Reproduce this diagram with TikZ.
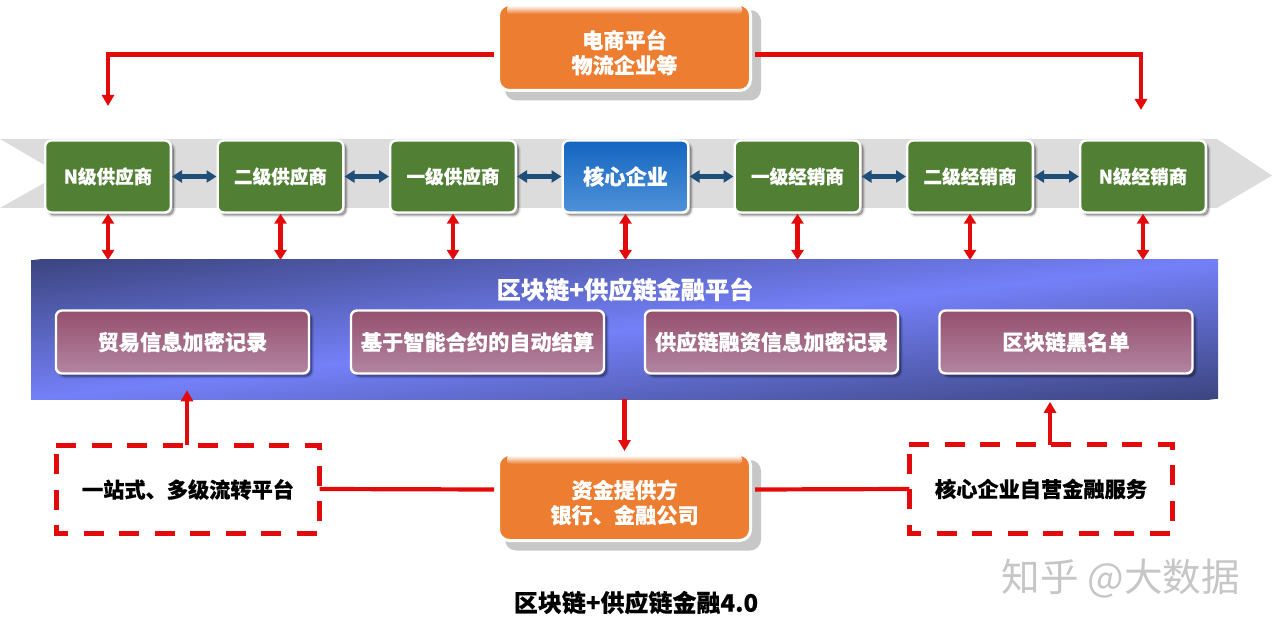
\documentclass[tikz,border=0pt]{standalone}
\usepackage{fontspec}
\setmainfont{Noto Sans CJK SC}[BoldFeatures={FakeBold=0.3}]
\usetikzlibrary{arrows.meta,calc}
\definecolor{redline}{HTML}{E20A0A}
\definecolor{bluearrow}{HTML}{1F4E79}
\definecolor{greenbox}{HTML}{518034}
\definecolor{orangebox}{HTML}{ED7D31}
\definecolor{bandgrey}{HTML}{DCDCDC}
\definecolor{paneldark}{HTML}{3C4580}
\definecolor{panelbright}{HTML}{7480F8}
\definecolor{plumtop}{HTML}{95506E}
\definecolor{plumbot}{HTML}{B285A1}
\definecolor{coretop}{HTML}{1465C0}
\definecolor{corebot}{HTML}{4F92D8}
\definecolor{wmgrey}{HTML}{C6C6C6}
\tikzset{
  softshadow/.style={
    preaction={draw=black,fill=black,line width=4pt,opacity=.07,transform canvas={shift={(3pt,-3pt)}}},
    preaction={draw=black,fill=black,line width=2pt,opacity=.10,transform canvas={shift={(3pt,-3pt)}}},
    preaction={fill=black,opacity=.14,transform canvas={shift={(3pt,-3pt)}}}},
  boxtext/.style={text=white,font=\fontsize{21.2pt}{25pt}\selectfont\bfseries,align=center,inner sep=0pt},
  chainbox/.style={boxtext,softshadow,draw=white,line width=2.4pt,rounded corners=6pt,minimum width=125.6pt,minimum height=72pt,outer sep=1.2pt},
  supplybox/.style={chainbox,fill=greenbox,font=\fontsize{18.6pt}{22pt}\selectfont\bfseries},
  corebox/.style={chainbox,top color=coretop,bottom color=corebot},
  orangenode/.style={fill=orangebox,draw=white,line width=3pt,rounded corners=11pt,minimum width=252pt,minimum height=86pt,inner sep=0pt},
  orangeshadow/.style={fill=black!22,rounded corners=11pt},
  plumbox/.style={boxtext,softshadow,draw=white,line width=2.4pt,rounded corners=6pt,top color=plumtop,bottom color=plumbot,minimum width=253pt,minimum height=63pt},
  dashbox/.style={text=black,font=\fontsize{21.2pt}{25pt}\selectfont\bfseries,inner sep=0pt,minimum width=263pt,minimum height=88pt},
  dashline/.style={draw=redline,line width=5pt,dash pattern=on 20pt off 15.5pt},
  redconn/.style={draw=redline,line width=4.2pt},
  redarrow/.style={redconn,-{Triangle[length=11pt,width=12pt]}},
  reddouble/.style={redconn,{Triangle[length=10pt,width=12pt]}-{Triangle[length=10pt,width=12pt]}},
  bluedouble/.style={draw=bluearrow,line width=4.2pt,{Triangle[length=10pt,width=12pt]}-{Triangle[length=10pt,width=12pt]}},
}
\begin{document}
\begin{tikzpicture}[x=1pt,y=-1pt]
\useasboundingbox (0,0) rectangle (1272,631);
% grey band
\fill[bandgrey] (0,139) -- (1217,139) -- (1272,175.5) -- (1217,208) -- (0,208) -- (60,174) -- cycle;
% platform panel
\begin{scope}
  \clip (31,260) rectangle (1218,399);
  \begin{scope}[transform canvas={rotate around={6.7:(624.5,329.5)}}]
    \shade[top color=paneldark,bottom color=paneldark,middle color=panelbright] (-100,191.5) rectangle (1350,467.5);
  \end{scope}
\end{scope}
\node[minimum width=1187pt,minimum height=139pt,inner sep=0pt,outer sep=0pt] (plat) at (624.5,329.5) {};
\node[text=white,font=\fontsize{24.2pt}{27pt}\selectfont\bfseries,inner sep=0pt] (plattitle) at (625,289.5) {区块链+供应链金融平台};
% chain
\node[supplybox] (c1) at (108,176.5) {N级供应商};
\node[supplybox] (c2) at (280.5,176.5) {二级供应商};
\node[supplybox] (c3) at (453,176.5) {一级供应商};
\node[corebox]   (c4) at (625.5,176.5) {核心企业};
\node[supplybox] (c5) at (797.5,176.5) {一级经销商};
\node[supplybox] (c6) at (970,176.5) {二级经销商};
\node[supplybox] (c7) at (1143,176.5) {N级经销商};
\foreach \a/\b in {1/2,2/3,3/4,4/5,5/6,6/7}
  \draw[bluedouble] (c\a.east) -- (c\b.west);
\foreach \a in {1,...,7}
  \draw[reddouble] (c\a.south) -- (c\a.south |- plat.north);
% plum boxes
\node[plumbox] (p1) at (182.5,342) {贸易信息加密记录};
\node[plumbox] (p2) at (477.5,342) {基于智能合约的自动结算};
\node[plumbox] (p3) at (771.5,342) {供应链融资信息加密记录};
\node[plumbox] (p4) at (1066,342) {区块链黑名单};
% top orange
\fill[orangeshadow] (505,10) rectangle (761,100.5);
\node[orangenode] (top) at (624.5,47.5) {};
\shade[top color=white,bottom color=orangebox,rounded corners=3pt] (507,5.5) rectangle (742,14);
\node[boxtext] (toptext) at ($(top)+(0,5)$) {电商平台\\物流企业等};
% bottom orange
\fill[orangeshadow] (505,460) rectangle (761,550.5);
\node[orangenode] (fund) at (624.5,497.5) {};
\shade[top color=white,bottom color=orangebox,rounded corners=3pt] (507,455.5) rectangle (742,464);
\node[boxtext] (fundtext) at ($(fund)+(0,5)$) {资金提供方\\银行、金融公司};
% dashed boxes
\node[dashbox] (d1) at (188,489.5) {一站式、多级流转平台};
\node[dashbox] (d2) at (1041,489) {核心企业自营金融服务};
\draw[dashline] (d1.north west) -- (d1.north east) -- (d1.south east) -- (d1.south west) -- cycle;
\draw[dashline] (d2.north west) -- (d2.north east) -- (d2.south east) -- (d2.south west) -- cycle;
% connectors
\coordinate (topL) at (108,106);
\coordinate (topR) at (1141,110);
\draw[redarrow] ($(top.west)+(-3,7)$) -| (topL);
\draw[redarrow] ($(top.east)+(3,7)$) -| (topR);
\draw[redconn] ($(fund.west)+(-3,-8)$) -- ($(d1.east)+(0,-0.5)$);
\draw[redconn] ($(fund.east)+(3,-8)$) -- ($(d2.west)+(0,0)$);
\draw[redarrow] ($(d1.north)+(-1,0)$) -- ++(0,-55);
\draw[redarrow] (fund.north |- plat.south) -- ($(fund.north)+(0,-2)$);
\draw[redarrow] ($(d2.north)+(9,0)$) -- ++(0,-43);
% caption and watermark
\node[text=black,font=\fontsize{24pt}{27pt}\selectfont\bfseries,inner sep=0pt] (caption) at (636,602.5) {区块链+供应链金融4.0};
\node[text=wmgrey,font=\fontsize{38.6pt}{42pt}\selectfont,inner sep=0pt] (wm) at (1121,579) {知乎 @大数据};
\end{tikzpicture}
\end{document}
